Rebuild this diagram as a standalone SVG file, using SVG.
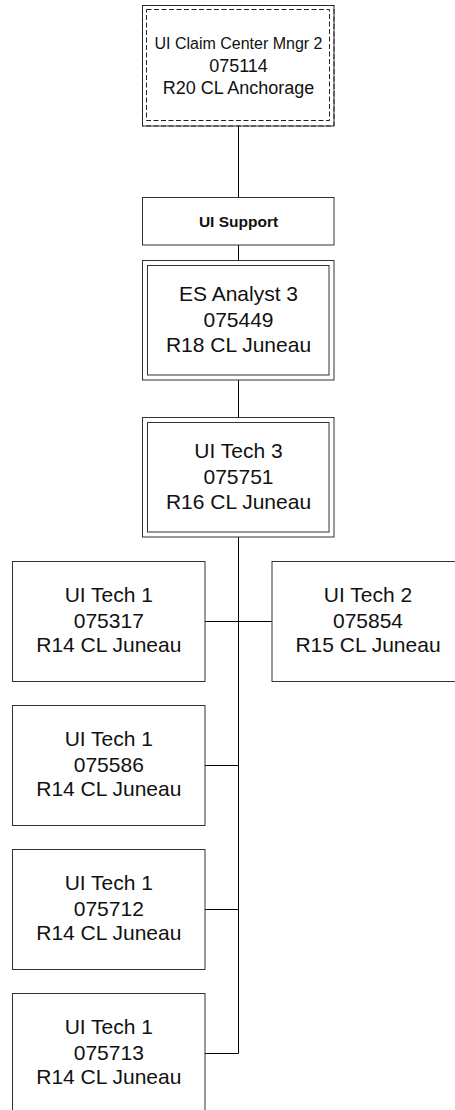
<svg xmlns="http://www.w3.org/2000/svg" width="455" height="1110" viewBox="0 0 455 1110">
<style>
.box{fill:#fff;stroke:#333;stroke-width:1}
.dbl{fill:none;stroke:#333;stroke-width:1}
.dash{fill:none;stroke:#222;stroke-width:1;stroke-dasharray:5 2.5}
.conn{fill:none;stroke:#000;stroke-width:1}
text{font-family:"Liberation Sans",Arial,sans-serif;fill:#111;text-anchor:middle}
.t21{font-size:21px}
.t18{font-size:18px}
.t16{font-size:16px}
.b{font-size:15.5px;font-weight:bold}
</style>
<rect width="455" height="1110" fill="#fff"/>
<g id="connectors">
<path class="conn" d="M238.5 126V197M238.5 245V260M238.5 380V417M238.5 537V1053.5M205 621.5H272M205 765.5H238.5M205 909.5H238.5M205 1053.5H238.5"/>
</g>
<g id="n-mgr">
<rect class="box" x="142.5" y="5.5" width="191.5" height="120.5" stroke="none"/>
<rect class="dash" x="142.5" y="5.5" width="191.5" height="120.5"/>
<rect class="dash" x="146.5" y="9.5" width="183" height="111"/>
<text class="t16" x="238.5" y="49">UI Claim Center Mngr 2</text>
<text class="t18" x="238.5" y="71.7">075114</text>
<text class="t18" x="238.5" y="94">R20 CL Anchorage</text>
</g>
<g id="n-support">
<rect class="box" x="142.5" y="197.5" width="191.5" height="47.5"/>
<text class="b" x="238.5" y="226.5">UI Support</text>
</g>
<g id="n-es3">
<rect class="box" x="142.5" y="260.5" width="191.5" height="119.5"/>
<rect class="dbl" x="147.5" y="265.5" width="181.5" height="109.5"/>
<text class="t21" x="238.5" y="300.5">ES Analyst 3</text>
<text class="t21" x="238.5" y="326.5">075449</text>
<text class="t21" x="238.5" y="351.5">R18 CL Juneau</text>
</g>
<g id="n-tech3">
<rect class="box" x="142.5" y="417.5" width="191.5" height="119.5"/>
<rect class="dbl" x="147.5" y="422.5" width="181.5" height="109.5"/>
<text class="t21" x="238.5" y="457.5">UI Tech 3</text>
<text class="t21" x="238.5" y="483.5">075751</text>
<text class="t21" x="238.5" y="508.5">R16 CL Juneau</text>
</g>
<g id="n-tech2">
<rect class="box" x="272" y="561.5" width="192" height="120"/>
<text class="t21" x="368" y="602">UI Tech 2</text>
<text class="t21" x="368" y="627.5">075854</text>
<text class="t21" x="368" y="652">R15 CL Juneau</text>
</g>
<g id="n-tech1a">
<rect class="box" x="12.5" y="561.5" width="192.5" height="120"/>
<text class="t21" x="108.8" y="602">UI Tech 1</text>
<text class="t21" x="108.8" y="627.5">075317</text>
<text class="t21" x="108.8" y="652">R14 CL Juneau</text>
</g>
<g id="n-tech1b">
<rect class="box" x="12.5" y="705.5" width="192.5" height="120"/>
<text class="t21" x="108.8" y="746">UI Tech 1</text>
<text class="t21" x="108.8" y="771.5">075586</text>
<text class="t21" x="108.8" y="796">R14 CL Juneau</text>
</g>
<g id="n-tech1c">
<rect class="box" x="12.5" y="849.5" width="192.5" height="120"/>
<text class="t21" x="108.8" y="890">UI Tech 1</text>
<text class="t21" x="108.8" y="915.5">075712</text>
<text class="t21" x="108.8" y="940">R14 CL Juneau</text>
</g>
<g id="n-tech1d">
<rect class="box" x="12.5" y="993.5" width="192.5" height="120"/>
<text class="t21" x="108.8" y="1034">UI Tech 1</text>
<text class="t21" x="108.8" y="1059.5">075713</text>
<text class="t21" x="108.8" y="1084">R14 CL Juneau</text>
</g>
</svg>
